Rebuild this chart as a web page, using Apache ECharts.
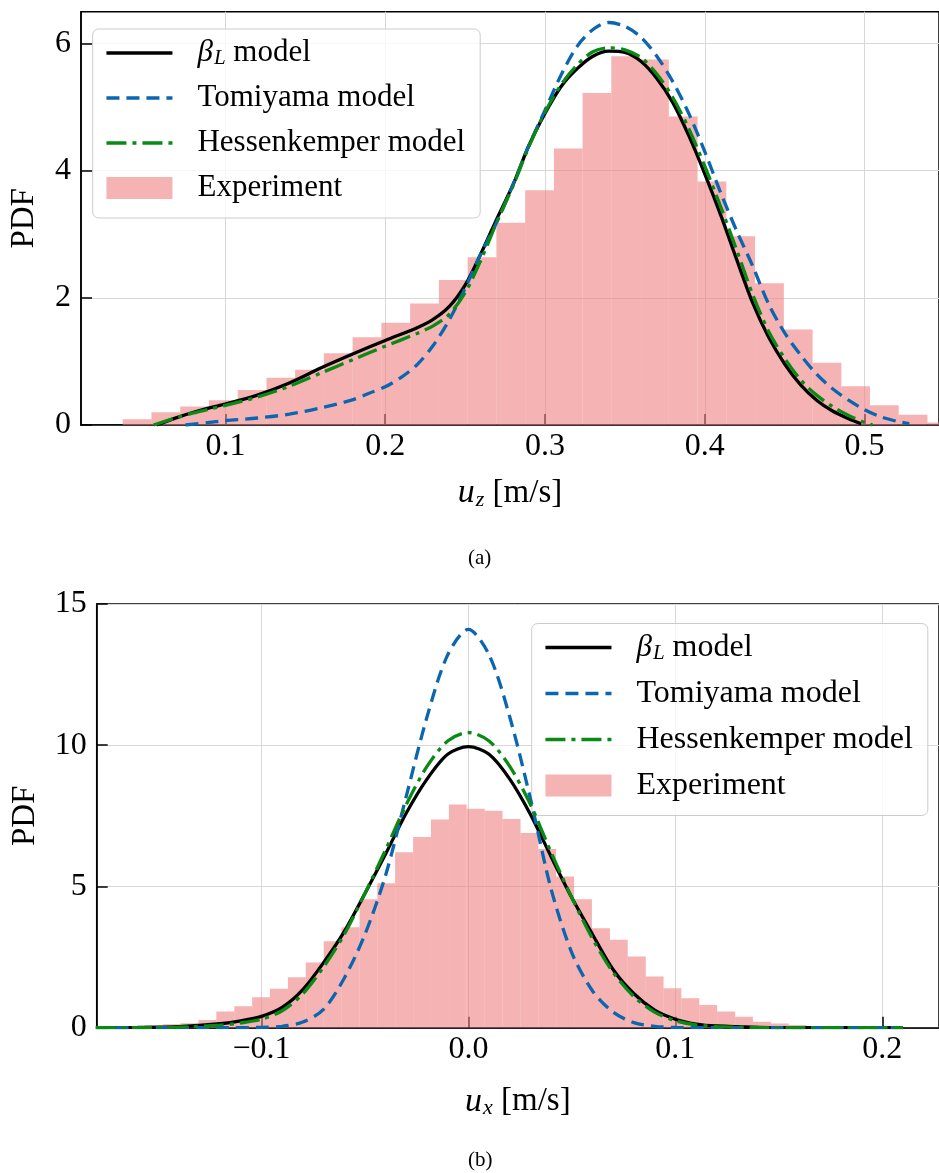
<!DOCTYPE html>
<html>
<head>
<meta charset="utf-8">
<script src="https://cdn.jsdelivr.net/npm/echarts@6/dist/echarts.min.js"></script>
<style>
html,body{margin:0;padding:0;background:#fff;}
#chart{width:939px;height:1173px;}
</style>
</head>
<body>
<div id="chart"></div>
<script>
// ---------- Panel (a): u_z ----------
const topEdges = [0.0357,0.0537,0.0717,0.0897,0.1077,0.1257,0.1436,0.1616,0.1796,0.1976,0.2156,0.2336,0.2516,0.2696,0.2876,0.3056,0.3235,0.3415,0.3595,0.3775,0.3955,0.4135,0.4315,0.4495,0.4675,0.4855,0.5034,0.5214,0.5394,0.5574];
const topHeights = [0.09,0.2,0.29,0.39,0.55,0.745,0.87,1.13,1.38,1.61,1.91,2.28,2.64,3.18,3.69,4.35,5.22,5.80,5.75,4.85,3.83,2.97,2.23,1.50,0.98,0.61,0.31,0.16,0.04];

const topBetaX = [0.057,0.07,0.08,0.09,0.10,0.12,0.14,0.16,0.18,0.20,0.22,0.23,0.24,0.25,0.26,0.27,0.28,0.29,0.30,0.31,0.32,0.33,0.34,0.35,0.36,0.37,0.38,0.39,0.40,0.41,0.42,0.43,0.44,0.45,0.46,0.47,0.48,0.49,0.498];
const topBetaY = [0,0.12,0.2,0.27,0.33,0.47,0.66,0.9,1.12,1.33,1.53,1.66,1.86,2.2,2.7,3.25,3.78,4.4,4.9,5.32,5.6,5.8,5.88,5.86,5.72,5.45,5.07,4.55,3.95,3.3,2.6,1.92,1.38,0.96,0.63,0.39,0.22,0.1,0.02];

const topTomX = [0.075,0.09,0.10,0.12,0.14,0.16,0.18,0.19,0.20,0.21,0.22,0.23,0.24,0.25,0.26,0.27,0.28,0.29,0.30,0.31,0.32,0.33,0.34,0.35,0.36,0.37,0.38,0.39,0.40,0.41,0.42,0.43,0.44,0.45,0.46,0.47,0.48,0.49,0.50,0.51,0.52,0.528];
const topTomY = [0,0.04,0.07,0.11,0.17,0.27,0.4,0.5,0.6,0.75,0.95,1.25,1.65,2.15,2.7,3.2,3.78,4.4,4.95,5.5,5.95,6.22,6.33,6.27,6.1,5.8,5.4,4.9,4.3,3.65,3.05,2.5,1.9,1.45,1.1,0.8,0.57,0.39,0.24,0.13,0.06,0.02];

const topHessX = [0.055,0.07,0.08,0.09,0.10,0.12,0.14,0.16,0.18,0.20,0.22,0.23,0.24,0.25,0.26,0.27,0.28,0.29,0.30,0.31,0.32,0.33,0.34,0.35,0.36,0.37,0.38,0.39,0.40,0.41,0.42,0.43,0.44,0.45,0.46,0.47,0.48,0.49,0.50,0.505];
const topHessY = [0,0.12,0.19,0.25,0.31,0.44,0.61,0.82,1.03,1.24,1.44,1.56,1.74,2.08,2.6,3.2,3.76,4.38,4.92,5.35,5.66,5.87,5.93,5.9,5.78,5.52,5.15,4.66,4.07,3.43,2.75,2.05,1.47,1.05,0.71,0.47,0.29,0.15,0.04,0];

const topXTicks = [0.1,0.2,0.3,0.4,0.5];
const topYTicks = [0,2,4,6];

// ---------- Panel (b): u_x ----------
const botEdges = [-0.1564,-0.1477,-0.1391,-0.1304,-0.1218,-0.1131,-0.1045,-0.0959,-0.0872,-0.0786,-0.0699,-0.0613,-0.0526,-0.0440,-0.0354,-0.0267,-0.0181,-0.0094,-0.0008,0.0079,0.0165,0.0252,0.0338,0.0424,0.0511,0.0597,0.0684,0.0770,0.0857,0.0943,0.1029,0.1116,0.1202,0.1289,0.1375,0.1462,0.1548,0.1635];
const botHeights = [0.08,0.12,0.16,0.27,0.57,0.76,1.08,1.38,1.79,2.31,3.06,3.56,4.55,5.11,6.21,6.75,7.37,7.90,7.75,7.68,7.39,6.89,6.33,5.35,4.55,3.52,3.11,2.52,1.81,1.40,1.04,0.80,0.57,0.39,0.21,0.15,0.10];

const botBetaX = [-0.18,-0.16,-0.14,-0.12,-0.11,-0.10,-0.09,-0.08,-0.07,-0.06,-0.05,-0.04,-0.03,-0.02,-0.01,0,0.01,0.02,0.03,0.04,0.05,0.06,0.07,0.08,0.09,0.10,0.11,0.12,0.14,0.16,0.18,0.21];
const botBetaY = [0,0.01,0.04,0.14,0.24,0.40,0.72,1.35,2.3,3.4,4.75,6.15,7.6,8.8,9.68,9.95,9.68,8.8,7.55,6.05,4.6,3.3,2.05,1.2,0.62,0.3,0.13,0.06,0.015,0.004,0,0];

const botTomX = [-0.18,-0.12,-0.10,-0.09,-0.08,-0.07,-0.06,-0.05,-0.04,-0.03,-0.02,-0.01,0,0.01,0.02,0.03,0.04,0.05,0.06,0.07,0.08,0.09,0.10,0.12,0.21];
const botTomY = [0,0,0.01,0.05,0.2,0.65,1.75,3.3,5.4,8.2,11.0,13.2,14.1,13.2,11.0,8.1,4.9,2.65,1.3,0.55,0.18,0.05,0.01,0,0];

const botHessX = [-0.18,-0.14,-0.12,-0.11,-0.10,-0.09,-0.08,-0.07,-0.06,-0.05,-0.04,-0.03,-0.02,-0.01,0,0.01,0.02,0.03,0.04,0.05,0.06,0.07,0.08,0.09,0.10,0.11,0.12,0.14,0.16,0.21];
const botHessY = [0,0.02,0.09,0.17,0.3,0.6,1.2,2.15,3.3,4.75,6.3,7.9,9.25,10.15,10.45,10.15,9.25,7.9,6.2,4.6,3.15,1.95,1.1,0.55,0.25,0.1,0.04,0.01,0,0];

const botXTicks = [-0.1,0,0.1,0.2];
const botYTicks = [0,5,10,15];

const seriesNames = ['βL model','Tomiyama model','Hessenkemper model','Experiment'];
const captions = ['(a)','(b)'];

// ---------- styling ----------
const FONT = 'Liberation Serif';
const PINK = 'rgba(240,128,128,0.6)';
const BLUE = '#0a66b0';
const GREEN = '#0a8a14';
const GRIDC = '#d8d8d8';
const DASH = [13,7];
const DASHDOT = [20,6,4,6];

function pairs(xs, ys){ return xs.map((x,i)=>[x, ys[i]]); }
function bins(edges, h){ return h.map((v,i)=>[edges[i], edges[i+1], v]); }
function fmtTick(v){ return Number(v).toFixed(1).replace('-', '\u2212'); }

function histSeries(name, idx, edges, h){
  return {
    name, type:'custom', xAxisIndex:idx, yAxisIndex:idx, z:1, clip:true,
    itemStyle:{color:PINK},
    encode:{x:[0,1], y:2},
    data: bins(edges, h),
    renderItem(params, api){
      const p0 = api.coord([api.value(0), api.value(2)]);
      const p1 = api.coord([api.value(1), 0]);
      return {type:'rect', shape:{x:p0[0], y:p0[1], width:p1[0]-p0[0], height:p1[1]-p0[1]},
              style:{fill:PINK}};
    }
  };
}
function lineSeries(name, idx, xs, ys, color, type, z, w){
  return {
    name, type:'line', xAxisIndex:idx, yAxisIndex:idx, z,
    data: pairs(xs, ys), symbol:'none', showSymbol:false, smooth:0.3,
    lineStyle:{color, width:w, type}, itemStyle:{color}
  };
}

const richSub = {
  i:{fontStyle:'italic', fontFamily:FONT, fontSize:31, color:'#000'},
  s:{fontStyle:'italic', fontFamily:FONT, fontSize:21, color:'#000', verticalAlign:'bottom', padding:[13,0,0,1]}
};

function xAxisDef(idx, min, max, ticks, sub, gap){
  return {
    gridIndex:idx, type:'value', min, max,
    axisLine:{show:true, onZero:false, lineStyle:{color:'#000', width:1.5}},
    axisTick:{show:true, inside:true, length:11, customValues:ticks, lineStyle:{color:'#000', width:1.5}},
    axisLabel:{customValues:ticks, formatter:fmtTick, fontFamily:FONT, fontSize:32, color:'#000', margin:6},
    splitLine:{show:true, lineStyle:{color:GRIDC, width:1}},
    name:'{i|u}{s|' + sub + '} [m/s]', nameLocation:'middle', nameGap:gap,
    nameTextStyle:{fontFamily:FONT, fontSize:33, color:'#000', rich:{
      i:{fontStyle:'italic', fontFamily:FONT, fontSize:34, color:'#000'},
      s:{fontStyle:'italic', fontFamily:FONT, fontSize:22, color:'#000', verticalAlign:'bottom', padding:[14,0,0,1]}
    }}
  };
}
function yAxisDef(idx, max, ticks, gap){
  return {
    gridIndex:idx, type:'value', min:0, max,
    axisLine:{show:true, onZero:false, lineStyle:{color:'#000', width:1.5}},
    axisTick:{show:true, inside:true, length:11, customValues:ticks, lineStyle:{color:'#000', width:1.5}},
    axisLabel:{customValues:ticks, formatter:v=>String(Math.round(v)), fontFamily:FONT, fontSize:32, color:'#000', margin:10},
    splitLine:{show:true, lineStyle:{color:GRIDC, width:1}},
    name:'PDF', nameLocation:'middle', nameGap:gap, nameRotate:90,
    nameTextStyle:{fontFamily:FONT, fontSize:33, color:'#000'}
  };
}
function legendDef(left, top, fs, gap, pad){
  const hide = {opacity:0};
  return {
    orient:'vertical', left, top, itemWidth:66, itemHeight:22, itemGap:gap,
    padding:pad, backgroundColor:'rgba(255,255,255,0.8)', borderColor:'#cccccc',
    borderWidth:1, borderRadius:6, selectedMode:false,
    lineStyle:{width:3.5},
    data:[
      {name:seriesNames[0], itemStyle:hide},
      {name:seriesNames[1], itemStyle:hide},
      {name:seriesNames[2], itemStyle:hide},
      {name:seriesNames[3], icon:'rect'}
    ],
    formatter:n => n === seriesNames[0] ? '{i|β}{s|L} model' : n,
    textStyle:{fontFamily:FONT, fontSize:fs, color:'#000', lineHeight:32, padding:[0,0,0,20], rich:richSub}
  };
}

const chart = echarts.init(document.getElementById('chart'), null, {renderer:'canvas'});
chart.setOption({
  animation:false,
  backgroundColor:'#fff',
  grid:[
    {left:77.3, top:11.7, width:941-77.3, height:425-11.7, show:true, borderColor:'#000', borderWidth:1.5, backgroundColor:'transparent'},
    {left:96.7, top:604, width:941-96.7, height:1027.7-604, show:true, borderColor:'#000', borderWidth:1.5, backgroundColor:'transparent'}
  ],
  xAxis:[
    xAxisDef(0, 0.0096, 0.5466, topXTicks, 'z', 50),
    xAxisDef(1, -0.1796, 0.2274, botXTicks, 'x', 56)
  ],
  yAxis:[
    yAxisDef(0, 6.5, topYTicks, 40),
    yAxisDef(1, 15, botYTicks, 55)
  ],
  legend:[
    legendDef(92.7, 29, 31, 13, [8,15,14,12]),
    legendDef(531.7, 623.5, 32, 14, [8,15,14,12])
  ],
  graphic:[
    {type:'text', left:468, top:548, style:{text:captions[0], fontFamily:FONT, fontSize:21, fill:'#000'}},
    {type:'text', left:468, top:1150, style:{text:captions[1], fontFamily:FONT, fontSize:21, fill:'#000'}}
  ],
  series:[
    histSeries(seriesNames[3], 0, topEdges, topHeights),
    lineSeries(seriesNames[0], 0, topBetaX, topBetaY, '#000000', 'solid', 3, 3.3),
    lineSeries(seriesNames[1], 0, topTomX, topTomY, BLUE, DASH, 4, 3.3),
    lineSeries(seriesNames[2], 0, topHessX, topHessY, GREEN, DASHDOT, 5, 3.3),
    histSeries(seriesNames[3], 1, botEdges, botHeights),
    lineSeries(seriesNames[0], 1, botBetaX, botBetaY, '#000000', 'solid', 3, 3.3),
    lineSeries(seriesNames[1], 1, botTomX, botTomY, BLUE, DASH, 4, 3.3),
    lineSeries(seriesNames[2], 1, botHessX, botHessY, GREEN, DASHDOT, 5, 3.3)
  ]
});
</script>
</body>
</html>
